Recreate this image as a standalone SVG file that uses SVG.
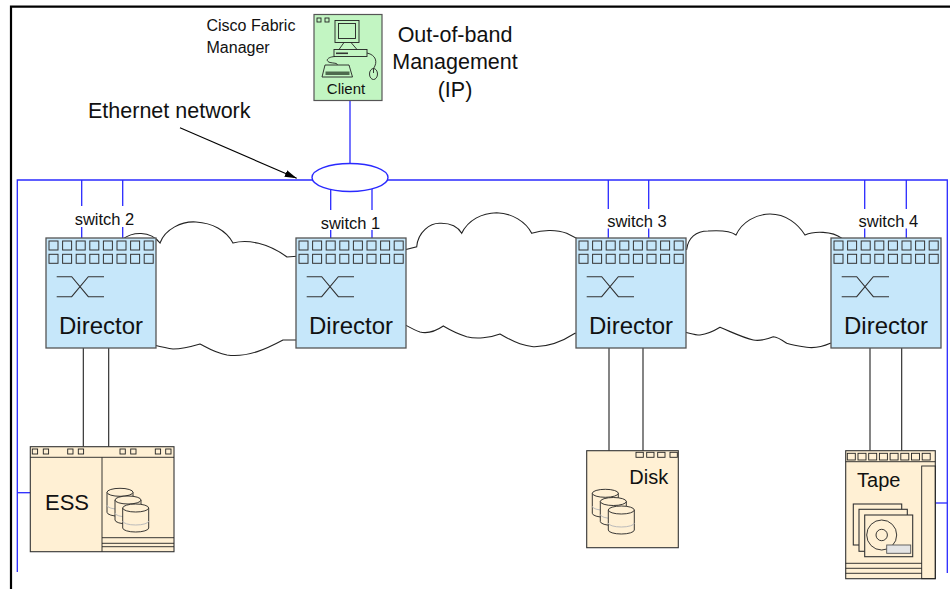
<svg xmlns="http://www.w3.org/2000/svg" width="950" height="589" viewBox="0 0 950 589">
  <style>
    text { font-family: "Liberation Sans", Arial, Helvetica, sans-serif; fill: #111; }
    .frame { stroke: #000; stroke-width: 2.2; fill: none; }
    .eth { stroke: #2a2aff; stroke-width: 1.3; fill: none; }
    .fc { stroke: #222; stroke-width: 1.1; fill: none; }
    .cloud { fill: #fff; stroke: #222; stroke-width: 1.1; }
    .dir { fill: #c6e7fa; stroke: #555; stroke-width: 1.3; }
    .port { fill: none; stroke: #333; stroke-width: 1; }
    .glyph { fill: none; stroke: #333; stroke-width: 1.1; }
    .store { fill: #fff0d4; stroke: #333; stroke-width: 1.1; }
    .thin { fill: none; stroke: #222; stroke-width: 0.9; }
    .lbl-dir { font-size: 24px; text-anchor: middle; }
    .lbl-sw { font-size: 16.5px; text-anchor: middle; }
  </style>
  <defs>
    <marker id="arrowhead" markerUnits="userSpaceOnUse" markerWidth="13" markerHeight="8" refX="12" refY="4" orient="auto">
      <path d="M0,0.5 L12,4 L0,7.5 Z" fill="#000"/>
    </marker>
    <!-- director chassis: 16 ports, crossbar glyph -->
    <g id="director-body">
      <rect class="dir" x="0" y="0" width="110" height="110"/>
      <g class="port">
        <rect x="3" y="3" width="9" height="9"/><rect x="16.6" y="3" width="9" height="9"/>
        <rect x="30.2" y="3" width="9" height="9"/><rect x="43.8" y="3" width="9" height="9"/>
        <rect x="57.4" y="3" width="9" height="9"/><rect x="71" y="3" width="9" height="9"/>
        <rect x="84.6" y="3" width="9" height="9"/><rect x="98.2" y="3" width="9" height="9"/>
        <rect x="3" y="16.3" width="9" height="9"/><rect x="16.6" y="16.3" width="9" height="9"/>
        <rect x="30.2" y="16.3" width="9" height="9"/><rect x="43.8" y="16.3" width="9" height="9"/>
        <rect x="57.4" y="16.3" width="9" height="9"/><rect x="71" y="16.3" width="9" height="9"/>
        <rect x="84.6" y="16.3" width="9" height="9"/><rect x="98.2" y="16.3" width="9" height="9"/>
      </g>
      <path class="glyph" d="M10.7,38.7 H25.7 L42.3,58.7 H58 M10.7,58.7 H25.7 L42.3,38.7 H58"/>
    </g>
    <!-- disk cylinder -->
    <g id="cyl">
      <path d="M0,4 V24 A13,4 0 0 0 26,24 V4 Z" fill="#fff0d4" stroke="#222" stroke-width="0.9"/>
      <path d="M0,17 A13,4 0 0 0 26,17" fill="none" stroke="#bbb" stroke-width="1"/>
      <ellipse cx="13" cy="4" rx="13" ry="4" fill="#fff0d4" stroke="#222" stroke-width="0.9"/>
    </g>
  </defs>

  <!-- outer frame -->
  <path class="frame" d="M11,589 V6.7 H950"/>

  <!-- fabric clouds (behind the directors) -->
  <g id="fabric-clouds">
    <path class="cloud" d="M123,239 C132,232 150,230 160,243 C165,229 182,221 196,222 C212,223 226,230 233,243 C248,239 268,243 287,257 L300,256 V340 L283,340 C268,348 248,358 227,355 C215,353 206,347 200,344 C190,347 182,349 173,349 C165,348 158,346 150,344 Z"/>
    <path class="cloud" d="M400,251 L416.7,246.7 C418,232 430,223 440,223.3 C450,223 458,227 461.7,233.3 C468,220 482,213 496.7,212.7 C512,213 526,222 531.7,233.3 C542,230 556,229 566.7,233.3 L580,240 V333 L575,333.3 C560,343 545,347 533.3,346.7 C525,346 517,344 500,334 C490,338 476,339 466.7,336.7 C458,334 450,330 443.3,326 C436,331 428,334 420,332 C414,330 409,327 400,322 Z"/>
    <path class="cloud" d="M680,250 L686.7,249.3 C688,238 696,231 708,231 C722,230 732,232 736,235 C742,222 756,214 770,214 C786,214 798,224 805,235 C814,231 832,231 841.7,238.3 L840,343 L830.3,343.3 C822,347 812,348 806.7,347.3 C798,346 792,345 786.7,343.3 C782,340 778,337 773.3,336.7 C765,340 758,341 753.3,340 C744,338 736,334 720,327.3 C714,331 708,334 700,335 C694,335 690,333 680,331 Z"/>
  </g>

  <!-- connectors -->
  <g id="connectors">
    <!-- IP management network -->
    <path class="eth" d="M17.3,572 V180 H947.3 V573"/>
    <path class="eth" d="M350,101 V164"/>
    <path class="eth" d="M17.3,492.7 H30.3"/>
    <path class="eth" d="M935.3,503 H947.3"/>
    <path class="eth" d="M81.7,180 V206 M81.7,227 V238 M122.7,180 V206 M122.7,227 V238"/>
    <path class="eth" d="M330.7,189 V210 M330.7,230 V238 M372,189 V210 M372,230 V238"/>
    <path class="eth" d="M608.3,180 V209 M608.3,228.5 V238 M648.7,180 V209 M648.7,228.5 V238"/>
    <path class="eth" d="M864.7,180 V209 M864.7,228.5 V238 M906.3,180 V209 M906.3,228.5 V238"/>
    <!-- fibre channel links to storage -->
    <path class="fc" d="M83.3,348 V446.7 M108.7,348 V446.7"/>
    <path class="fc" d="M609,348 V452 M643,348 V452.3"/>
    <path class="fc" d="M870,348 V450.7 M901.7,348 V450.7"/>
    <!-- callout pointer -->
    <path d="M180,127.7 L296.7,178.3" stroke="#000" stroke-width="1.1" fill="none" marker-end="url(#arrowhead)"/>
  </g>

  <!-- ethernet hub -->
  <g id="ethernet-hub">
    <ellipse cx="350" cy="177.5" rx="38" ry="14" fill="#fff" stroke="#2a2aff" stroke-width="1.4"/>
  </g>

  <!-- labels -->
  <g id="labels">
    <text x="206.5" y="31" font-size="16">Cisco Fabric</text>
    <text x="206.5" y="52.5" font-size="16">Manager</text>
    <text x="455" y="42" font-size="21.5" text-anchor="middle">Out-of-band</text>
    <text x="455" y="69" font-size="21.5" text-anchor="middle">Management</text>
    <text x="455" y="96.5" font-size="21.5" text-anchor="middle">(IP)</text>
    <text x="88" y="118.3" font-size="21.5">Ethernet network</text>
  </g>

  <!-- management client -->
  <g id="client">
    <rect x="314" y="14.5" width="68" height="86" fill="#c2f5c2" stroke="#555" stroke-width="1.2"/>
    <rect class="thin" x="317" y="18" width="4" height="4"/>
    <rect class="thin" x="325" y="18" width="4" height="4"/>
    <rect class="thin" x="335" y="20.5" width="24" height="22"/>
    <rect class="thin" x="338.5" y="23.5" width="17" height="15"/>
    <path class="thin" d="M344,42.5 L339,49.5 M351,42.5 L357,49.5"/>
    <rect class="thin" x="334" y="49.5" width="33" height="7"/>
    <path d="M336,53.3 H348" stroke="#333" stroke-width="1.6"/>
    <path class="thin" d="M335,56.5 C327,57 325,61 330,62.5 C335,63.5 338,63 337,65"/>
    <path class="thin" d="M325,65 H349 L352.5,77 H322 Z"/>
    <rect x="325.5" y="71.5" width="24" height="3.5" fill="#4e6a4e"/>
    <path class="thin" d="M367,53 C376,55 378,62 373.5,68.5"/>
    <ellipse class="thin" cx="373.5" cy="74" rx="4" ry="5.5"/>
    <path class="thin" d="M373.5,68.5 V73"/>
    <text x="346" y="94" font-size="15" text-anchor="middle">Client</text>
  </g>

  <!-- directors -->
  <g id="switch2" transform="translate(46,238)">
    <use href="#director-body"/>
    <text class="lbl-dir" x="55" y="96">Director</text>
    <text class="lbl-sw" x="58.5" y="-13">switch 2</text>
  </g>
  <g id="switch1" transform="translate(296,238)">
    <use href="#director-body"/>
    <text class="lbl-dir" x="55" y="96">Director</text>
    <text class="lbl-sw" x="54.5" y="-8.7">switch 1</text>
  </g>
  <g id="switch3" transform="translate(576,238)">
    <use href="#director-body"/>
    <text class="lbl-dir" x="55" y="96">Director</text>
    <text class="lbl-sw" x="61" y="-11.3">switch 3</text>
  </g>
  <g id="switch4" transform="translate(831,238)">
    <use href="#director-body"/>
    <text class="lbl-dir" x="55" y="96">Director</text>
    <text class="lbl-sw" x="57.3" y="-11.3">switch 4</text>
  </g>

  <!-- ESS storage server -->
  <g id="ess">
    <rect class="store" x="30.3" y="446.7" width="143.7" height="105"/>
    <path class="thin" d="M30.3,457.3 H174 M102,457.3 V551.7 M102,537.7 H174 M102,543.3 H174 M102,546.7 H174"/>
    <g class="thin">
      <rect x="32.3" y="449" width="5.3" height="5"/><rect x="43.3" y="449" width="5.3" height="5"/>
      <rect x="67.7" y="449" width="5.3" height="5"/><rect x="78.3" y="449" width="5.3" height="5"/>
      <rect x="120" y="449" width="5.3" height="5"/><rect x="130.7" y="449" width="5.3" height="5"/>
      <rect x="155.3" y="449" width="5.3" height="5"/><rect x="165.7" y="449" width="5.3" height="5"/>
    </g>
    <text x="67" y="510" font-size="22" text-anchor="middle">ESS</text>
    <use href="#cyl" x="107" y="488.3"/>
    <use href="#cyl" x="115" y="496"/>
    <use href="#cyl" x="122.7" y="504"/>
  </g>

  <!-- disk subsystem -->
  <g id="disk">
    <rect class="store" x="586.7" y="450.7" width="91.6" height="97"/>
    <g class="thin">
      <rect x="636" y="452.3" width="7.3" height="5"/><rect x="646.7" y="452.3" width="7.3" height="5"/>
      <rect x="657.7" y="452.3" width="7.3" height="5"/><rect x="670" y="452.3" width="7.3" height="5"/>
    </g>
    <text x="648.7" y="484.3" font-size="20" text-anchor="middle">Disk</text>
    <use href="#cyl" x="592.3" y="489.3"/>
    <use href="#cyl" x="600.3" y="497.5"/>
    <use href="#cyl" x="608.3" y="506"/>
  </g>

  <!-- tape library -->
  <g id="tape">
    <rect class="store" x="845.7" y="450.7" width="89.6" height="128"/>
    <g class="thin">
      <rect x="847.3" y="453.3" width="8" height="6.7"/><rect x="858" y="453.3" width="8" height="6.7"/>
      <rect x="868.7" y="453.3" width="8" height="6.7"/><rect x="879.4" y="453.3" width="8" height="6.7"/>
      <rect x="890.1" y="453.3" width="8" height="6.7"/><rect x="900.8" y="453.3" width="8" height="6.7"/>
      <rect x="911.5" y="453.3" width="8" height="6.7"/><rect x="922.2" y="453.3" width="8" height="6.7"/>
    </g>
    <path class="thin" d="M845.7,461.7 H935.3 M845.7,563.3 H921.7 M845.7,568.3 H921.7 M845.7,573.3 H921.7"/>
    <rect class="thin" x="921.7" y="466" width="13.6" height="112.7"/>
    <text x="878.8" y="486.7" font-size="20" text-anchor="middle">Tape</text>
    <rect class="store" x="853.3" y="504" width="48.4" height="41"/>
    <rect class="store" x="859" y="509.3" width="48.3" height="42"/>
    <rect class="store" x="864.7" y="515" width="48" height="41.7"/>
    <circle class="thin" cx="881.7" cy="535" r="15"/>
    <circle class="thin" cx="881.7" cy="535" r="5.7"/>
    <rect x="886.7" y="545" width="24" height="8.3" fill="#e4e4e4" stroke="#555" stroke-width="0.9"/>
  </g>
</svg>
